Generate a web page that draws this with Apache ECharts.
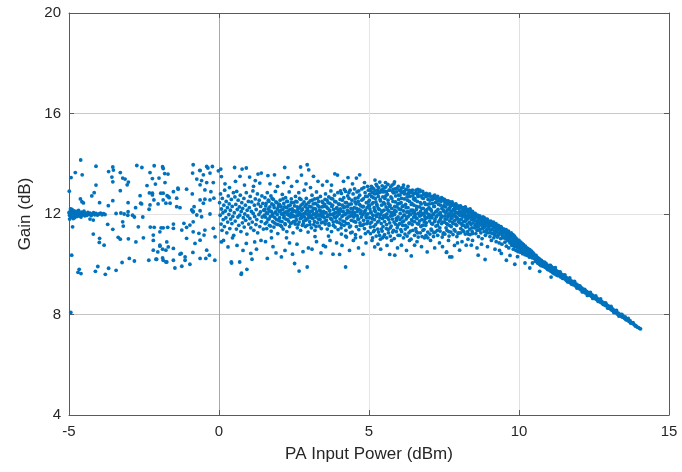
<!DOCTYPE html>
<html>
<head>
<meta charset="utf-8">
<script src="https://cdn.jsdelivr.net/npm/echarts@6/dist/echarts.min.js"></script>
<style>
  html, body { margin: 0; padding: 0; background: #fff; }
  #chart { width: 682px; height: 472px; }
</style>
</head>
<body>
<div id="chart"></div>
<script>
  // axis ticks
  var xTicks = [-5, 0, 5, 10, 15];
  var yTicks = [4, 8, 12, 16, 20];

  // sparse points, x < 0
  var leftPts = [
    [-5.01,14.36],[-4.61,14.15],[-4.93,13.45],[-4.79,13.65],[-4.56,13.56],[-4.10,13.90],[-3.54,13.87],[-3.52,13.75],
    [-3.68,13.69],[-3.29,13.65],[-2.74,13.93],[-2.57,13.85],[-2.16,13.92],[-1.88,13.88],[-1.86,13.81],[-2.30,13.65],
    [-1.70,13.59],[-1.81,13.61],[-3.57,13.47],[-3.21,13.43],[-3.13,13.39],[-3.54,13.28],[-3.02,13.27],[-3.06,13.16],
    [-3.29,12.93],[-2.40,13.13],[-2.12,13.19],[-2.22,13.41],[-2.00,13.43],[-1.80,13.25],[-4.10,13.15],[-4.16,12.85],
    [-4.24,12.72],[-4.99,12.91],[-4.62,12.60],[-4.57,12.49],[-4.52,12.44],[-3.98,12.45],[-3.69,12.33],[-3.54,12.53],
    [-3.03,12.45],[-2.78,12.25],[-2.63,12.73],[-2.61,12.43],[-2.58,12.40],[-2.22,12.76],[-2.32,12.84],[-1.94,12.83],
    [-1.73,12.73],[-1.66,12.65],[-2.03,12.40],[-1.77,12.43],[-2.33,12.19],[-3.03,12.09],
    [-5.00,12.05],[-4.98,11.95],[-4.96,12.10],[-4.95,11.90],[-4.93,12.02],[-4.92,12.15],[-4.90,11.88],[-4.88,12.00],
    [-4.87,12.08],[-4.85,11.93],[-4.83,12.12],[-4.82,11.85],[-4.80,12.03],[-4.78,11.97],[-4.76,12.10],[-4.74,11.90],
    [-4.72,12.05],[-4.70,11.98],[-4.68,12.14],[-4.66,11.92],[-4.63,12.02],[-4.60,11.88],[-4.58,12.07],[-4.55,11.96],
    [-4.52,12.04],[-4.50,12.11],[-4.47,11.93],[-4.43,12.01],[-4.40,11.95],[-4.37,12.06],[-4.33,11.99],[-4.30,12.03],
    [-4.26,11.94],[-4.22,12.00],[-4.18,12.05],[-4.14,11.97],[-4.10,12.02],[-4.05,11.96],[-4.00,12.00],[-3.95,12.03],
    [-3.90,11.97],[-3.85,12.01],[-3.80,11.98],[-3.43,12.02],[-3.27,12.04],[-3.16,12.00],[-3.04,11.95],[-2.88,11.95],
    [-2.82,11.88],[-2.54,11.88],[-4.98,11.80],[-4.95,12.20],[-4.90,12.18],[-4.86,11.82],
    [-4.88,11.49],[-4.30,11.80],[-4.19,11.76],[-3.71,11.59],[-3.54,11.39],[-3.21,11.69],[-3.19,11.52],[-2.69,11.49],
    [-2.29,11.48],[-2.16,11.47],[-1.93,11.45],[-1.71,11.47],[-4.19,11.20],[-3.98,11.03],[-3.99,10.87],[-3.83,10.76],
    [-3.36,11.07],[-3.29,11.00],[-3.02,11.01],[-2.77,10.89],[-2.52,11.05],[-2.19,10.95],[-2.19,11.16],[-2.04,10.49],
    [-1.97,10.76],[-1.88,10.60],[-1.77,10.56],[-4.91,10.36],[-4.66,9.80],[-4.70,9.68],[-4.60,9.63],[-4.04,9.91],
    [-4.12,9.72],[-3.68,9.84],[-3.79,9.60],[-3.43,9.76],[-3.23,10.07],[-2.99,10.23],[-2.82,10.13],[-2.34,10.16],
    [-2.10,10.20],[-1.88,10.25],[-1.77,10.09],[-4.94,8.08],
    [-0.86,13.96],[-0.41,13.89],[-0.22,13.89],[-0.63,13.73],[-0.52,13.56],[-0.30,13.63],[-0.02,13.72],[-0.88,13.63],
    [-0.74,13.39],[-0.58,13.33],[-0.41,13.25],[-0.19,13.25],[-0.63,13.16],[-0.47,12.96],[-0.27,12.89],[-0.89,12.80],
    [-0.63,12.56],[-0.47,12.59],[-0.30,12.56],[-0.17,12.63],[-0.52,12.43],[-0.83,12.29],[-0.91,12.16],[-0.86,12.09],
    [-0.63,12.13],[-1.08,12.99],[-1.36,12.99],[-1.52,12.89],[-1.41,12.63],[-1.69,12.69],[-1.63,12.43],[-1.86,12.83],
    [-1.86,12.56],[-2.22,12.83],[-2.17,12.56],[-2.30,12.36],[-1.41,12.29],[-1.30,12.25],[-0.74,11.96],[-0.58,11.89],
    [-0.30,12.00],[-0.86,11.69],[-0.97,11.56],[-1.08,11.47],[-1.24,11.36],[-0.86,11.29],[-0.67,11.23],[-0.47,11.36],
    [-0.50,11.16],[-0.19,11.43],[-0.13,11.09],[-0.63,10.96],[-0.80,10.83],[-1.08,11.03],[-1.52,11.60],[-1.52,11.43],
    [-1.86,11.45],[-1.97,11.29],[-1.74,10.89],[-1.69,10.69],[-1.97,10.72],[-2.19,10.56],[-1.52,10.63],[-1.30,10.40],
    [-1.13,10.29],[-1.13,10.16],[-1.52,10.16],[-1.86,10.16],[-2.08,10.20],[-1.74,10.09],[-1.47,9.85],[-1.24,9.92],
    [-0.97,10.00],[-0.41,10.56],[-0.32,10.36],[-0.44,10.23],[-0.63,10.23],[-1.17,11.63],[-0.87,12.10],[-1.37,13.03],
    [-0.87,10.47],[-1.26,10.43],[-0.14,10.16],[-0.37,13.83],[-0.64,13.74]
  ];

  // band 0 .. 4 dBm
  var bandPtsA = [
    [0.02,12.45],[0.04,11.95],[0.05,12.80],[0.07,11.60],[0.08,12.20],[0.10,11.35],[0.11,12.62],[0.13,12.05],[0.14,11.78],[0.16,12.35],
    [0.18,11.50],[0.19,12.95],[0.21,12.12],[0.23,11.85],[0.24,12.50],[0.26,11.25],[0.28,12.25],[0.29,11.68],[0.31,12.72],[0.33,11.98],
    [0.34,12.40],[0.36,11.42],[0.38,12.15],[0.39,11.80],[0.41,12.58],[0.43,11.62],[0.44,12.30],[0.46,11.90],[0.48,12.85],[0.49,11.15],
    [0.06,13.79],[0.08,13.49],[0.20,13.20],[0.35,13.05],[0.08,10.89],[0.30,10.69],[0.41,10.09],[0.15,10.95],[0.45,11.05],
    [0.51,12.05],[0.53,12.68],[0.54,11.72],[0.56,12.38],[0.58,11.40],[0.59,12.90],[0.61,12.18],[0.63,11.88],[0.64,12.55],[0.66,11.55],
    [0.68,12.28],[0.69,11.95],[0.71,12.75],[0.73,11.30],[0.74,12.10],[0.76,12.45],[0.78,11.65],[0.79,12.22],[0.81,11.85],[0.83,12.62],
    [0.84,11.48],[0.86,12.00],[0.88,12.35],[0.89,11.75],[0.91,12.85],[0.93,11.20],[0.94,12.15],[0.96,11.92],[0.98,12.50],[0.99,11.60],
    [0.52,13.85],[0.77,13.79],[0.91,13.83],[0.55,13.30],[0.70,13.50],[0.85,13.15],[0.69,10.09],[0.93,9.80],[0.74,9.60],[0.91,10.83],
    [0.60,10.75],[0.80,10.55],[0.42,10.05],[0.75,9.65],
    [1.01,12.25],[1.03,11.82],[1.04,12.70],[1.06,11.45],[1.08,12.10],[1.09,12.48],[1.11,11.68],[1.13,12.92],[1.14,12.02],[1.16,11.35],
    [1.18,12.35],[1.19,11.90],[1.21,12.60],[1.23,11.58],[1.24,12.18],[1.26,11.78],[1.28,12.80],[1.29,11.25],[1.31,12.40],[1.33,11.98],
    [1.34,12.55],[1.36,11.50],[1.38,12.08],[1.39,12.30],[1.41,11.70],[1.43,12.72],[1.44,11.88],[1.46,12.42],[1.48,11.40],[1.49,12.15],
    [1.02,13.47],[1.30,13.59],[1.41,13.63],[1.21,13.33],[1.36,13.23],[1.15,13.10],[1.06,10.43],[1.19,10.89],[1.25,10.60],[1.40,10.95],
    [1.10,10.20],
    [1.51,11.95],[1.53,12.65],[1.54,11.62],[1.56,12.32],[1.58,12.05],[1.59,11.42],[1.61,12.85],[1.63,11.80],[1.64,12.20],[1.66,12.50],
    [1.68,11.55],[1.69,12.12],[1.71,11.90],[1.73,12.72],[1.74,11.32],[1.76,12.40],[1.78,12.00],[1.79,11.70],[1.81,12.58],[1.83,11.48],
    [1.84,12.25],[1.86,11.85],[1.88,12.90],[1.89,12.08],[1.91,11.60],[1.93,12.45],[1.94,11.98],[1.96,11.22],[1.98,12.30],[1.99,11.75],
    [1.63,13.53],[1.85,13.56],[1.70,13.20],[1.95,13.10],[1.61,10.23],[1.80,10.70],[1.55,10.90],[1.90,10.45],[1.75,11.05],
    [2.01,12.10],[2.02,11.85],[2.04,12.55],[2.05,11.55],[2.07,12.30],[2.08,12.00],[2.10,11.70],[2.11,12.78],[2.13,12.18],[2.14,11.40],
    [2.16,12.42],[2.17,11.92],[2.19,12.05],[2.20,11.62],[2.22,12.65],[2.23,11.80],[2.25,12.25],[2.26,11.30],[2.28,12.50],[2.29,11.98],
    [2.31,12.12],[2.32,11.72],[2.34,12.88],[2.35,11.50],[2.37,12.35],[2.38,11.88],[2.40,12.02],[2.41,12.60],[2.43,11.65],[2.44,12.20],
    [2.46,11.95],[2.47,11.25],[2.49,12.45],
    [2.19,13.85],[2.30,13.45],[2.15,13.25],[2.42,13.10],[2.08,10.29],[2.20,10.55],[2.35,10.85],[2.45,10.40],[2.25,11.05],
    [2.51,11.90],[2.52,12.32],[2.54,11.60],[2.55,12.70],[2.57,12.08],[2.58,11.78],[2.60,12.48],[2.61,11.45],[2.63,12.18],[2.64,11.95],
    [2.66,12.85],[2.67,11.68],[2.69,12.25],[2.70,12.02],[2.72,11.35],[2.73,12.58],[2.75,11.85],[2.76,12.15],[2.78,11.55],[2.79,12.40],
    [2.81,12.00],[2.82,11.72],[2.84,12.95],[2.85,11.88],[2.87,12.30],[2.88,11.50],[2.90,12.10],[2.91,12.62],[2.93,11.80],[2.94,12.22],
    [2.96,11.98],[2.97,11.28],[2.99,12.45],
    [2.72,13.87],[2.94,13.96],[2.99,13.76],[2.75,13.55],[2.60,13.30],[2.90,13.20],[2.52,10.03],[2.67,9.73],[2.94,9.89],[2.80,10.50],
    [2.60,10.80],[2.98,10.65],
    [3.01,12.05],[3.02,11.70],[3.04,12.52],[3.05,11.92],[3.07,12.28],[3.08,11.45],[3.10,12.75],[3.11,12.12],[3.13,11.82],[3.14,12.40],
    [3.16,11.58],[3.17,12.00],[3.19,12.60],[3.20,11.35],[3.22,12.20],[3.23,11.88],[3.25,12.88],[3.26,12.08],[3.28,11.65],[3.29,12.35],
    [3.31,11.95],[3.32,12.50],[3.34,11.52],[3.35,12.15],[3.37,11.78],[3.38,12.70],[3.40,12.02],[3.41,11.42],[3.43,12.28],[3.44,11.90],
    [3.46,12.45],[3.47,11.68],[3.49,12.10],
    [3.15,13.50],[3.30,13.30],[3.45,13.15],[3.05,13.05],[3.10,10.60],[3.25,10.90],[3.40,10.45],[3.20,11.10],[3.48,10.75],
    [3.51,11.85],[3.52,12.38],[3.54,11.60],[3.55,12.80],[3.57,12.05],[3.58,11.75],[3.60,12.55],[3.61,11.40],[3.63,12.22],[3.64,11.95],
    [3.66,12.68],[3.67,11.55],[3.69,12.12],[3.70,12.42],[3.72,11.82],[3.73,12.92],[3.75,11.30],[3.76,12.30],[3.78,11.98],[3.79,12.60],
    [3.81,11.68],[3.82,12.18],[3.84,11.88],[3.85,12.75],[3.87,11.48],[3.88,12.05],[3.90,12.48],[3.91,11.72],[3.93,12.25],[3.94,11.92],
    [3.96,12.85],[3.97,11.38],[3.99,12.15],
    [3.86,13.60],[3.95,13.55],[3.60,13.30],[3.75,13.15],[3.55,10.70],[3.70,10.95],[3.80,10.40],[3.92,10.85],[3.65,11.12]
  ];

  // band 4 .. 8.5 dBm
  var bandPtsB = [
    [4.01,12.00],[4.02,11.65],[4.04,12.58],[4.05,12.20],[4.07,11.45],[4.08,12.82],[4.10,11.90],[4.11,12.35],[4.13,11.72],[4.14,12.10],
    [4.16,12.65],[4.17,11.55],[4.19,12.28],[4.20,11.98],[4.22,12.90],[4.23,11.35],[4.25,12.45],[4.26,11.82],[4.28,12.15],[4.29,12.72],
    [4.31,11.62],[4.32,12.05],[4.34,12.38],[4.35,11.48],[4.37,12.95],[4.38,11.92],[4.40,12.22],[4.41,11.75],[4.43,12.55],[4.44,11.28],
    [4.46,12.08],[4.47,12.80],[4.49,11.88],
    [4.15,13.30],[4.30,13.45],[4.45,13.20],[4.22,9.89],[4.02,10.39],[4.10,10.75],[4.35,10.55],[4.48,10.95],[4.25,11.08],
    [4.51,12.25],[4.52,11.70],[4.54,12.62],[4.55,11.95],[4.57,12.40],[4.58,11.50],[4.60,12.88],[4.61,12.10],[4.63,11.80],[4.64,12.50],
    [4.66,11.38],[4.67,12.18],[4.69,12.75],[4.70,11.65],[4.72,12.02],[4.73,12.32],[4.75,11.88],[4.76,13.00],[4.78,11.55],[4.79,12.28],
    [4.81,12.60],[4.82,11.75],[4.84,12.08],[4.85,11.42],[4.87,12.85],[4.88,12.15],[4.90,11.92],[4.91,12.45],[4.93,11.62],[4.94,12.70],
    [4.96,12.00],[4.97,11.30],[4.99,12.35],
    [4.58,13.43],[4.69,13.56],[4.85,13.25],[4.95,13.10],[4.65,10.65],[4.80,10.40],[4.90,10.85],[4.55,11.05],
    [5.01,12.55],[5.02,11.85],[5.03,12.20],[5.05,11.48],[5.06,12.92],[5.07,12.05],[5.09,11.68],[5.10,12.40],[5.11,13.05],[5.13,11.95],
    [5.14,12.65],[5.15,11.30],[5.17,12.25],[5.18,11.78],[5.19,12.80],[5.21,12.10],[5.22,11.58],[5.23,12.48],[5.25,11.90],[5.26,13.12],
    [5.27,12.32],[5.29,11.40],[5.30,12.00],[5.31,12.70],[5.33,11.72],[5.34,12.18],[5.35,11.15],[5.37,12.58],[5.38,11.98],[5.39,12.88],
    [5.41,11.62],[5.42,12.35],[5.43,12.08],[5.45,11.82],[5.46,12.98],[5.47,11.50],[5.49,12.45],
    [5.36,13.27],[5.20,13.35],[5.19,10.69],[5.39,10.60],[5.10,10.95],[5.30,10.80],[5.45,11.05],
    [5.50,12.15],[5.52,11.70],[5.53,12.62],[5.54,11.95],[5.56,13.08],[5.57,12.28],[5.58,11.42],[5.60,12.00],[5.61,12.78],[5.62,11.85],
    [5.64,12.42],[5.65,11.25],[5.66,12.12],[5.68,12.95],[5.69,11.65],[5.70,12.35],[5.72,11.92],[5.73,12.68],[5.74,11.52],[5.76,12.22],
    [5.77,13.15],[5.78,11.80],[5.80,12.50],[5.81,12.05],[5.82,11.35],[5.84,12.85],[5.85,11.98],[5.86,12.30],[5.88,11.60],[5.89,12.72],
    [5.90,12.10],[5.92,11.75],[5.93,13.02],[5.94,11.45],[5.96,12.40],[5.97,11.88],[5.99,12.58],
    [5.69,10.39],[5.86,10.36],[5.60,10.75],[5.75,10.95],[5.95,10.65],[5.55,13.25],[5.85,13.28],
    [6.00,12.20],[6.02,11.62],[6.03,12.75],[6.04,12.02],[6.06,11.38],[6.07,12.45],[6.08,13.03],[6.10,11.85],[6.11,12.30],[6.12,11.55],
    [6.14,12.88],[6.15,12.12],[6.16,11.72],[6.18,12.60],[6.19,11.95],[6.20,11.20],[6.22,12.38],[6.23,12.98],[6.24,11.80],[6.26,12.08],
    [6.27,12.68],[6.28,11.48],[6.30,12.25],[6.31,11.90],[6.32,12.82],[6.34,11.65],[6.35,12.50],[6.36,12.00],[6.38,11.32],[6.39,12.92],
    [6.40,12.15],[6.42,11.78],[6.43,12.42],[6.44,11.58],[6.46,12.72],[6.47,12.05],[6.49,11.88],
    [6.08,10.76],[6.25,10.55],[6.41,10.33],[6.52,10.76],[6.35,10.95],[6.15,13.15],[6.30,13.10],
    [6.50,12.35],[6.52,11.70],[6.53,12.62],[6.54,11.98],[6.56,11.42],[6.57,12.85],[6.58,12.18],[6.60,11.82],[6.61,12.50],[6.62,11.25],
    [6.64,12.02],[6.65,12.72],[6.66,11.60],[6.68,12.28],[6.69,11.92],[6.70,12.95],[6.72,12.10],[6.73,11.50],[6.74,12.40],[6.76,11.78],
    [6.77,12.65],[6.78,12.00],[6.80,11.35],[6.81,12.22],[6.82,12.80],[6.84,11.68],[6.85,12.45],[6.86,11.90],[6.88,12.12],[6.89,11.55],
    [6.90,12.70],[6.92,12.05],[6.93,11.85],[6.94,12.38],[6.96,11.28],[6.97,12.58],[6.99,11.98],
    [6.63,12.98],[6.94,10.49],[6.75,10.70],[6.60,10.90],[6.85,11.05],
    [7.00,12.25],[7.02,11.72],[7.03,12.55],[7.04,11.95],[7.06,12.70],[7.07,11.40],[7.08,12.12],[7.10,11.85],[7.11,12.42],[7.12,11.60],
    [7.14,12.62],[7.15,12.00],[7.16,11.25],[7.18,12.30],[7.19,12.75],[7.20,11.78],[7.22,12.08],[7.23,11.52],[7.24,12.48],[7.26,11.92],
    [7.27,12.65],[7.28,11.35],[7.30,12.18],[7.31,11.68],[7.32,12.38],[7.34,11.98],[7.35,12.58],[7.36,11.45],[7.38,12.05],[7.39,11.82],
    [7.40,12.50],[7.42,11.62],[7.43,12.22],[7.44,11.90],[7.46,12.60],[7.47,11.20],[7.49,12.32],
    [7.19,10.65],[7.35,10.85],[7.05,10.95],[7.45,10.70],
    [7.50,12.10],[7.52,11.68],[7.53,12.45],[7.54,11.92],[7.56,12.28],[7.57,11.45],[7.58,12.52],[7.60,11.80],[7.61,12.15],[7.62,11.58],
    [7.64,12.40],[7.65,12.00],[7.66,11.30],[7.68,12.22],[7.69,11.72],[7.70,12.48],[7.72,11.95],[7.73,12.08],[7.74,11.50],[7.76,12.35],
    [7.77,11.85],[7.78,12.42],[7.80,11.62],[7.81,12.18],[7.82,11.98],[7.84,11.38],[7.85,12.30],[7.86,11.75],[7.88,12.38],[7.89,11.90],
    [7.90,12.05],[7.92,11.55],[7.93,12.25],[7.94,11.82],[7.96,12.32],[7.97,11.22],[7.99,12.00],
    [7.58,10.47],[7.69,10.29],[7.59,10.49],[7.76,10.29],[7.85,10.75],[7.65,10.95],[7.95,10.85],
    [8.00,12.20],[8.02,11.65],[8.03,11.95],[8.04,12.30],[8.06,11.42],[8.07,12.08],[8.08,11.80],[8.10,12.25],[8.11,11.55],[8.12,11.98],
    [8.14,12.18],[8.15,11.70],[8.16,11.30],[8.18,12.05],[8.19,11.88],[8.20,12.22],[8.22,11.48],[8.23,11.75],[8.24,12.10],[8.26,11.92],
    [8.27,11.60],[8.28,12.15],[8.30,11.82],[8.31,11.20],[8.32,12.02],[8.34,11.68],[8.35,12.12],[8.36,11.40],[8.38,11.90],[8.39,12.05],
    [8.40,11.58],[8.42,11.78],[8.43,12.08],[8.44,11.30],[8.46,11.95],[8.47,11.65],[8.49,11.85],
    [8.02,10.56],[8.24,10.76],[8.10,10.90],[8.30,11.00],[8.41,10.76],[8.45,10.95]
  ];

  // extra points filling the dense core of the band, 1.5 .. 9 dBm
  var bandFill = [
    [1.525,12.18],[1.545,11.88],[1.57,12.42],[1.595,11.68],[1.62,12.02],[1.645,12.55],[1.67,11.80],[1.695,12.28],[1.72,11.52],[1.745,12.10],
    [1.77,12.62],[1.795,11.92],[1.82,12.35],[1.845,11.65],[1.87,12.05],[1.895,12.48],[1.92,11.78],[1.945,12.20],[1.97,11.58],[1.995,12.38],
    [2.015,12.38],[2.035,11.72],[2.06,12.15],[2.085,11.50],[2.11,12.00],[2.135,12.60],[2.16,11.85],[2.185,12.28],[2.21,11.58],[2.235,12.08],
    [2.26,12.50],[2.285,11.78],[2.31,12.32],[2.335,11.95],[2.36,12.18],[2.385,11.62],[2.41,12.45],[2.435,11.90],[2.46,12.10],[2.485,11.70],
    [2.515,12.12],[2.535,11.70],[2.56,12.50],[2.585,11.92],[2.61,12.28],[2.635,11.58],[2.66,12.05],[2.685,12.62],[2.71,11.82],[2.735,12.35],
    [2.76,11.95],[2.785,12.20],[2.81,11.62],[2.835,12.48],[2.86,12.02],[2.885,11.75],[2.91,12.38],[2.935,11.55],[2.96,12.15],[2.985,11.85],
    [3.015,12.30],[3.035,11.58],[3.06,12.10],[3.085,11.85],[3.11,12.55],[3.135,11.98],[3.16,12.22],[3.185,11.70],[3.21,12.42],[3.235,11.50],
    [3.26,12.00],[3.285,12.62],[3.31,11.80],[3.335,12.28],[3.36,11.92],[3.385,12.12],[3.41,11.65],[3.435,12.50],[3.46,11.95],[3.485,12.30],
    [3.515,12.05],[3.535,12.58],[3.56,11.72],[3.585,12.28],[3.61,11.90],[3.635,12.45],[3.66,11.62],[3.685,12.15],[3.71,11.98],[3.735,12.62],
    [3.76,11.78],[3.785,12.35],[3.81,11.55],[3.835,12.02],[3.86,12.50],[3.885,11.85],[3.91,12.22],[3.935,11.68],[3.96,12.08],[3.985,12.40],
    [4.015,12.38],[4.035,11.80],[4.06,12.12],[4.085,11.58],[4.11,12.55],[4.135,11.95],[4.16,12.25],[4.185,11.70],[4.21,12.45],[4.235,12.02],
    [4.26,11.62],[4.285,12.30],[4.31,11.88],[4.335,12.62],[4.36,12.08],[4.385,11.52],[4.41,12.40],[4.435,11.98],[4.46,12.20],[4.485,11.72],
    [4.515,12.05],[4.535,12.48],[4.56,11.68],[4.585,12.22],[4.61,11.92],[4.635,12.65],[4.66,11.80],[4.685,12.38],[4.71,11.55],[4.735,12.12],
    [4.76,12.55],[4.785,11.98],[4.81,12.30],[4.835,11.60],[4.86,12.05],[4.885,12.70],[4.91,11.85],[4.935,12.25],[4.96,11.72],[4.985,12.48],
    [5.015,12.32],[5.035,11.62],[5.06,12.08],[5.085,12.70],[5.11,11.82],[5.135,12.45],[5.16,11.50],[5.185,12.15],[5.21,12.62],[5.235,11.95],
    [5.26,12.38],[5.285,11.68],[5.31,12.22],[5.335,12.85],[5.36,11.85],[5.385,12.52],[5.41,11.40],[5.435,12.12],[5.46,12.68],[5.485,11.92],
    [5.02,12.78],[5.28,12.95],
    [5.515,12.40],[5.535,11.88],[5.56,12.72],[5.585,11.58],[5.61,12.18],[5.635,12.55],[5.66,11.78],[5.685,12.30],[5.71,11.45],[5.735,12.05],
    [5.76,12.62],[5.785,11.95],[5.81,12.85],[5.835,11.68],[5.86,12.15],[5.885,12.48],[5.91,11.82],[5.935,12.28],[5.96,11.55],[5.985,12.75],
    [5.55,12.90],[5.80,12.98],
    [6.015,12.42],[6.035,11.78],[6.06,12.18],[6.085,12.62],[6.11,11.68],[6.135,12.32],[6.16,11.95],[6.185,12.80],[6.21,11.55],[6.235,12.25],
    [6.26,11.85],[6.285,12.55],[6.31,12.08],[6.335,11.62],[6.36,12.70],[6.385,11.98],[6.41,12.38],[6.435,11.72],[6.46,12.15],[6.485,12.60],
    [6.05,12.92],[6.33,12.95],
    [6.515,12.08],[6.535,12.55],[6.56,11.85],[6.585,12.30],[6.61,11.62],[6.635,12.70],[6.66,12.00],[6.685,11.72],[6.71,12.45],[6.735,11.95],
    [6.76,12.22],[6.785,11.55],[6.81,12.62],[6.835,12.02],[6.86,11.78],[6.885,12.38],[6.91,11.65],[6.935,12.18],[6.96,12.75],[6.985,11.88],
    [7.015,12.40],[7.035,11.85],[7.06,12.18],[7.085,11.62],[7.11,12.58],[7.135,11.98],[7.16,12.30],[7.185,11.70],[7.21,12.45],[7.235,11.88],
    [7.26,12.12],[7.285,11.55],[7.31,12.52],[7.335,12.00],[7.36,11.75],[7.385,12.35],[7.41,11.92],[7.435,12.60],[7.46,11.68],[7.485,12.15],
    [7.515,12.32],[7.535,11.80],[7.56,12.05],[7.585,11.62],[7.61,12.40],[7.635,11.90],[7.66,12.18],[7.685,11.55],[7.71,12.30],[7.735,11.82],
    [7.76,12.10],[7.785,11.68],[7.81,12.35],[7.835,11.95],[7.86,12.12],[7.885,11.60],[7.91,12.22],[7.935,11.85],[7.96,12.05],[7.985,11.70],
    [8.015,12.08],[8.035,11.78],[8.06,12.25],[8.085,11.62],[8.11,11.92],[8.135,12.12],[8.16,11.55],[8.185,11.98],[8.21,11.72],[8.235,12.18],
    [8.26,11.82],[8.285,11.50],[8.31,12.00],[8.335,11.88],[8.36,11.65],[8.385,12.12],[8.41,11.92],[8.435,11.45],[8.46,11.78],[8.485,12.02],
    [8.515,11.85],[8.535,11.55],[8.56,11.95],[8.585,11.72],[8.61,11.48],[8.635,11.88],[8.66,11.62],[8.685,11.35],[8.71,11.80],[8.735,11.58],
    [8.76,11.75],[8.785,11.42],[8.81,11.68],[8.835,11.85],[8.86,11.50],[8.885,11.70],[8.91,11.28],[8.935,11.58],[8.96,11.75],[8.985,11.42]
  ];

  // points along the upper and lower edges of the band, 4 .. 8.5 dBm
  var bandEdge = [
    [4.05,12.92],[4.18,12.98],[4.33,12.85],[4.52,13.00],[4.66,12.92],[4.83,13.05],[4.98,12.95],
    [4.08,11.20],[4.22,11.12],[4.39,11.25],[4.55,11.18],[4.72,11.08],[4.88,11.22],
    [5.04,12.98],[5.08,13.10],[5.12,12.85],[5.16,13.00],[5.20,12.92],[5.24,13.18],[5.28,12.82],[5.32,13.05],[5.40,12.95],[5.44,13.12],[5.48,12.88],
    [5.05,11.22],[5.12,11.05],[5.18,11.35],[5.24,11.12],[5.32,11.28],[5.38,11.00],[5.44,11.32],[5.49,11.10],
    [5.52,13.05],[5.58,12.88],[5.63,13.18],[5.67,12.95],[5.72,13.08],[5.79,12.90],[5.83,13.20],[5.87,13.00],[5.92,12.88],[5.98,13.10],
    [5.52,11.18],[5.59,11.05],[5.64,11.38],[5.71,11.12],[5.79,11.28],[5.84,11.02],[5.91,11.30],[5.97,11.15],
    [6.02,12.95],[6.09,12.85],[6.13,13.05],[6.18,12.90],[6.24,12.98],[6.29,12.80],[6.34,12.92],[6.41,12.85],[6.45,12.95],
    [6.03,11.15],[6.09,11.30],[6.15,11.05],[6.21,11.40],[6.27,11.12],[6.33,11.25],[6.40,11.00],[6.46,11.35],
    [6.51,12.82],[6.57,12.95],[6.62,12.78],[6.68,12.88],[6.74,12.72],[6.79,12.90],[6.84,12.78],[6.91,12.82],[6.97,12.72],
    [6.52,11.15],[6.58,11.30],[6.64,11.08],[6.71,11.25],[6.77,11.10],[6.83,11.38],[6.90,11.15],[6.96,11.05],
    [7.02,12.80],[7.09,12.68],[7.16,12.72],[7.22,12.62],[7.29,12.70],[7.35,12.60],[7.42,12.65],[7.48,12.55],
    [7.03,11.20],[7.09,11.35],[7.15,11.10],[7.21,11.28],[7.29,11.15],[7.37,11.32],[7.44,11.08],[7.49,11.25],
    [7.52,12.58],[7.58,12.48],[7.64,12.52],[7.71,12.42],[7.77,12.48],[7.83,12.38],[7.90,12.40],[7.96,12.30],
    [7.53,11.20],[7.60,11.35],[7.67,11.12],[7.73,11.28],[7.80,11.18],[7.87,11.32],[7.93,11.10],[7.98,11.25],
    [8.05,12.32],[8.13,12.25],[8.21,12.28],[8.29,12.18],[8.37,12.20],[8.45,12.10],
    [8.05,11.25],[8.13,11.35],[8.21,11.20],[8.29,11.30],[8.37,11.18],[8.45,11.22]
  ];

  // knee 8.5 .. 11 dBm
  var kneePts = [
    [8.50,11.98],[8.52,11.45],[8.53,11.75],[8.54,12.02],[8.56,11.22],[8.57,11.60],[8.58,11.88],[8.60,11.35],[8.61,11.70],[8.62,11.95],
    [8.64,11.50],[8.65,11.10],[8.66,11.80],[8.68,11.62],[8.69,11.92],[8.70,11.40],[8.72,11.72],[8.73,11.25],[8.74,11.85],[8.76,11.55],
    [8.77,11.02],[8.78,11.68],[8.80,11.88],[8.81,11.45],[8.82,11.78],[8.84,11.30],[8.85,11.60],[8.86,11.82],[8.88,11.15],[8.89,11.52],
    [8.90,11.72],[8.92,11.38],[8.93,11.62],[8.94,11.80],[8.96,11.25],[8.97,11.55],[8.99,11.70],
    [8.64,10.36],[8.87,10.19],[8.60,10.65],[8.75,10.80],[8.95,10.70],
    [9.00,11.48],[9.02,11.65],[9.03,11.10],[9.04,11.35],[9.06,11.72],[9.07,11.55],[9.08,10.95],[9.10,11.40],[9.11,11.62],[9.12,11.22],
    [9.14,11.50],[9.15,11.68],[9.16,11.05],[9.18,11.32],[9.19,11.58],[9.20,11.15],[9.22,11.45],[9.23,11.62],[9.24,10.90],[9.26,11.28],
    [9.27,11.52],[9.28,11.08],[9.30,11.38],[9.31,11.55],[9.32,11.18],[9.34,10.85],[9.35,11.42],[9.36,11.25],[9.38,11.50],[9.39,11.02],
    [9.40,11.32],[9.42,11.45],[9.43,10.80],[9.44,11.15],[9.46,11.38],[9.47,11.05],[9.49,11.28],
    [9.41,10.43],[9.58,10.16],[9.20,10.60],[9.35,10.55],
    [9.50,11.40],[9.52,11.12],[9.53,10.88],[9.54,11.30],[9.56,11.02],[9.57,11.38],[9.58,10.72],[9.60,11.18],[9.61,11.28],[9.62,10.95],
    [9.64,11.10],[9.65,11.32],[9.66,10.65],[9.68,11.05],[9.69,11.22],[9.70,10.85],[9.72,11.15],[9.73,10.98],[9.74,11.25],[9.76,10.75],
    [9.77,11.08],[9.78,10.92],[9.80,11.18],[9.81,10.60],[9.82,11.00],[9.84,10.82],[9.85,11.12],[9.86,10.70],[9.88,10.95],[9.89,11.05],
    [9.90,10.55],[9.92,10.85],[9.93,11.00],[9.94,10.68],[9.96,10.92],[9.97,10.50],[9.99,10.80],
    [9.86,10.00],[9.70,10.35],[9.95,10.30],
    [9.015,11.55],[9.05,11.25],[9.085,11.60],[9.12,11.38],[9.155,11.48],[9.19,11.20],[9.225,11.55],[9.26,11.38],[9.295,11.12],[9.33,11.48],
    [9.365,11.32],[9.40,11.50],[9.435,11.22],[9.47,11.40],[9.505,11.25],[9.54,11.05],[9.575,11.22],[9.61,11.05],[9.645,11.22],[9.68,10.92],
    [9.715,11.08],[9.75,10.85],[9.785,11.02],[9.82,10.90],[9.855,10.78],[9.89,10.88],[9.925,10.70],[9.96,10.82],[9.995,10.62],
    [10.00,10.95],[10.02,10.62],[10.03,10.80],[10.05,10.48],[10.06,10.88],[10.08,10.70],[10.09,10.55],[10.11,10.82],[10.12,10.42],[10.14,10.68],
    [10.15,10.78],[10.17,10.52],[10.18,10.62],[10.20,10.38],[10.21,10.72],[10.23,10.58],[10.24,10.45],[10.26,10.65],[10.27,10.35],[10.29,10.55],
    [10.30,10.62],[10.32,10.42],[10.33,10.50],[10.35,10.28],[10.36,10.58],[10.38,10.40],[10.39,10.48],[10.41,10.30],[10.42,10.52],[10.44,10.38],
    [10.45,10.25],[10.47,10.45],[10.48,10.32],
    [10.36,9.85],[10.20,10.05],[10.45,10.05],
    [10.50,10.40],[10.52,10.22],[10.53,10.32],[10.55,10.12],[10.57,10.35],[10.58,10.18],[10.60,10.28],[10.62,10.05],[10.63,10.25],[10.65,10.15],
    [10.67,10.22],[10.68,10.00],[10.70,10.18],[10.72,10.08],[10.73,9.95],[10.75,10.15],[10.77,10.02],[10.78,10.10],[10.80,9.92],[10.82,10.05],
    [10.83,9.98],[10.85,10.08],[10.87,9.88],[10.88,9.98],[10.90,10.03],[10.92,9.85],[10.93,9.95],[10.95,9.80],[10.97,9.92],[10.98,9.85],
    [10.69,9.72],
    [10.025,10.72],[10.065,10.60],[10.105,10.68],[10.145,10.55],[10.185,10.50],[10.225,10.48],[10.265,10.52],[10.305,10.38],[10.345,10.45],
    [10.385,10.32],[10.425,10.40],[10.465,10.28],[10.505,10.30],[10.545,10.25],[10.585,10.15],[10.625,10.20],[10.665,10.08],[10.705,10.12],
    [10.745,10.05],[10.785,9.98],[10.825,10.00],[10.865,9.92],[10.905,9.90],[10.945,9.88],[10.985,9.78]
  ];

  // tail 11 .. 14 dBm
  var tailPts = [
    [11.00,9.95],[11.02,9.78],[11.04,9.88],[11.06,9.72],[11.08,9.90],[11.10,9.82],[11.12,9.68],[11.14,9.85],[11.16,9.75],[11.18,9.62],
    [11.20,9.80],[11.22,9.70],[11.24,9.58],[11.26,9.74],[11.28,9.65],[11.30,9.55],[11.32,9.70],[11.34,9.60],[11.36,9.66],[11.38,9.50],
    [11.40,9.62],[11.42,9.55],[11.44,9.48],[11.46,9.58],[11.48,9.50],[11.07,9.49],
    [11.50,9.55],[11.52,9.42],[11.54,9.50],[11.56,9.38],[11.58,9.47],[11.60,9.40],[11.62,9.30],[11.64,9.42],[11.66,9.35],[11.68,9.28],
    [11.70,9.38],[11.72,9.30],[11.74,9.22],[11.76,9.33],[11.78,9.25],[11.80,9.30],[11.82,9.18],[11.84,9.26],[11.86,9.20],[11.88,9.14],
    [11.90,9.22],[11.92,9.15],[11.94,9.08],[11.96,9.17],[11.98,9.10],
    [12.00,9.12],[12.02,9.02],[12.05,9.08],[12.07,8.98],[12.10,9.05],[12.12,8.95],[12.15,8.99],[12.17,8.90],[12.20,8.96],[12.22,8.86],
    [12.25,8.92],[12.27,8.84],[12.30,8.88],[12.32,8.78],[12.35,8.85],[12.37,8.76],[12.40,8.80],[12.42,8.72],[12.45,8.77],[12.47,8.68],
    [12.50,8.72],[12.53,8.64],[12.55,8.70],[12.58,8.60],[12.60,8.65],[12.63,8.56],[12.65,8.60],[12.68,8.52],[12.70,8.57],[12.73,8.48],
    [12.75,8.52],[12.78,8.44],[12.80,8.48],[12.83,8.40],[12.86,8.44],[12.88,8.36],[12.91,8.40],[12.94,8.32],[12.97,8.35],
    [13.00,8.30],[13.03,8.24],[13.06,8.28],[13.09,8.18],[13.12,8.22],[13.15,8.13],[13.18,8.16],[13.21,8.08],[13.24,8.12],[13.28,8.02],
    [13.31,8.05],[13.34,7.98],[13.38,8.00],[13.42,7.93],[13.46,7.95],
    [13.50,7.88],[13.54,7.90],[13.58,7.82],[13.62,7.80],[13.66,7.74],[13.70,7.76],[13.74,7.68],[13.78,7.65],[13.82,7.62],[13.86,7.58],
    [13.90,7.55],[13.94,7.50],[13.98,7.48],[14.02,7.45],[14.05,7.43],
    [11.03,9.84],[11.11,9.74],[11.19,9.72],[11.27,9.60],[11.35,9.58],[11.43,9.56],[11.51,9.48],[11.59,9.36],[11.67,9.40],[11.75,9.28],
    [11.83,9.24],[11.91,9.12],[11.99,9.05],[12.06,9.03],[12.14,8.92],[12.21,8.91],[12.29,8.82],[12.36,8.80],[12.44,8.74],[12.52,8.66],
    [12.59,8.62],[12.67,8.58],[12.74,8.50],[12.82,8.45],[12.90,8.38],[12.98,8.30],[13.05,8.22],[13.13,8.17],[13.20,8.12],[13.27,8.05],
    [13.36,7.96],[13.44,7.90],[13.52,7.85],[13.60,7.78],[13.68,7.72],
    [11.05,9.95],[11.13,9.66],[11.21,9.86],[11.29,9.56],[11.37,9.70],[11.45,9.44],[11.53,9.58],[11.61,9.32],[11.69,9.46],[11.77,9.20],
    [11.85,9.32],[11.93,9.05],[12.03,9.14],[12.11,8.90],[12.19,9.00],[12.28,8.76],[12.38,8.88],[12.46,8.64],[12.56,8.74],[12.64,8.52],
    [12.72,8.62],[12.81,8.40],[12.89,8.46],[12.96,8.25],[13.07,8.32],[13.16,8.08],[13.25,8.16],[13.33,7.94],[13.43,8.00],[13.56,7.80],
    [13.64,7.84],[13.72,7.66],[13.80,7.68],[13.88,7.54]
  ];

  var allPts = leftPts.concat(bandPtsA, bandPtsB, bandFill, bandEdge, kneePts, tailPts);

  var font = '"Liberation Sans", Arial, Helvetica, sans-serif';
  var chart = echarts.init(document.getElementById('chart'), null, { renderer: 'canvas' });

  var option = {
    animation: false,
    backgroundColor: '#ffffff',
    grid: { left: 69, right: 13, top: 13, bottom: 57 },
    xAxis: [
      {
        type: 'value',
        min: xTicks[0],
        max: xTicks[xTicks.length - 1],
        interval: 5,
        name: 'PA Input Power (dBm)',
        nameLocation: 'middle',
        nameGap: 31,
        nameTextStyle: { fontFamily: font, fontSize: 17, color: '#262626' },
        axisLine: { show: true, onZero: false, lineStyle: { color: '#5a5a5a', width: 1 } },
        axisTick: { show: true, inside: true, length: 5, lineStyle: { color: '#5a5a5a' } },
        axisLabel: { fontFamily: font, fontSize: 15, color: '#262626', margin: 9 },
        splitLine: { show: true, lineStyle: { color: ['#e0e0e0', '#a8a8a8', '#e6e6e6', '#e0e0e0', '#e0e0e0'], width: 1 } }
      },
      {
        type: 'value',
        position: 'top',
        min: xTicks[0],
        max: xTicks[xTicks.length - 1],
        interval: 5,
        axisLine: { show: true, onZero: false, lineStyle: { color: '#5a5a5a', width: 1 } },
        axisTick: { show: true, inside: true, length: 5, lineStyle: { color: '#5a5a5a' } },
        axisLabel: { show: false },
        splitLine: { show: false }
      }
    ],
    yAxis: [
      {
        type: 'value',
        min: yTicks[0],
        max: yTicks[yTicks.length - 1],
        interval: 4,
        name: 'Gain (dB)',
        nameLocation: 'middle',
        nameGap: 33,
        nameTextStyle: { fontFamily: font, fontSize: 17, color: '#262626' },
        axisLine: { show: true, onZero: false, lineStyle: { color: '#5a5a5a', width: 1 } },
        axisTick: { show: true, inside: true, length: 5, lineStyle: { color: '#5a5a5a' } },
        axisLabel: { fontFamily: font, fontSize: 15, color: '#262626', margin: 8 },
        splitLine: { show: true, lineStyle: { color: ['#e0e0e0', '#c4c4c4', '#e4e4e4', '#c8c8c8', '#e0e0e0'], width: 1 } }
      },
      {
        type: 'value',
        position: 'right',
        min: yTicks[0],
        max: yTicks[yTicks.length - 1],
        interval: 4,
        axisLine: { show: true, onZero: false, lineStyle: { color: '#5a5a5a', width: 1 } },
        axisTick: { show: true, inside: true, length: 5, lineStyle: { color: '#5a5a5a' } },
        axisLabel: { show: false },
        splitLine: { show: false }
      }
    ],
    series: [
      {
        type: 'scatter',
        data: allPts,
        symbol: 'circle',
        symbolSize: 3.8,
        itemStyle: { color: '#0072BD', opacity: 1 },
        silent: true
      }
    ]
  };

  chart.setOption(option);
</script>
</body>
</html>
